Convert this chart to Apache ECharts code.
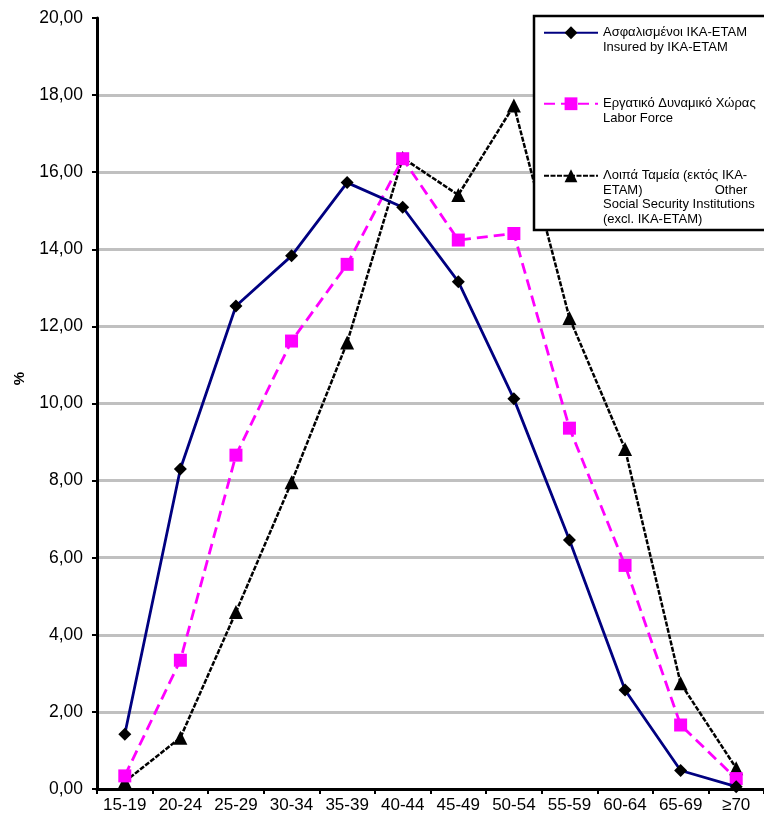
<!DOCTYPE html>
<html>
<head>
<meta charset="utf-8">
<script src="https://cdn.jsdelivr.net/npm/echarts@6/dist/echarts.min.js"></script>
<style>
    html, body { margin: 0; padding: 0; background: #fff; }
    #main { width: 764px; height: 819px; }
</style>
</head>
<body>
<div id="main"></div>
<script>
// age groups
let categories = ['15-19', '20-24', '25-29', '30-34', '35-39', '40-44', '45-49', '50-54', '55-59', '60-64', '65-69', '≥70'];
// % per age group
let insured = [1.42, 8.30, 12.53, 13.83, 15.73, 15.09, 13.16, 10.12, 6.46, 2.57, 0.48, 0.06];
let laborForce = [0.34, 3.34, 8.66, 11.62, 13.61, 16.35, 14.24, 14.41, 9.36, 5.80, 1.66, 0.27];
let otherFunds = [0.19, 1.33, 4.59, 7.96, 11.58, 16.37, 15.41, 17.73, 12.22, 8.82, 2.74, 0.54];

let seriesNames = [
    'Ασφαλισμένοι IKA-ETAM\nInsured by IKA-ETAM',
    'Εργατικό Δυναμικό Χώρας\nLabor Force',
    'Λοιπά Ταμεία (εκτός IKA-\nETAM)                    Other\nSocial Security Institutions\n(excl. IKA-ETAM)'
];

const FONT = '"Liberation Sans", Arial, sans-serif';
const LH = 14.5;

// one legend per entry; blank lines on top so the icon sits on the first text line
function makeLegend(name, top, lines) {
    return {
        data: [name],
        left: 543,
        top: top,
        padding: 0,
        itemWidth: 54,
        itemHeight: 16,
        z: 101,
        formatter: function (n) { return '\n'.repeat(lines - 1) + n; },
        textStyle: { fontFamily: FONT, fontSize: 13, lineHeight: LH, color: '#000' }
    };
}

let option = {
    backgroundColor: '#fff',
    animation: false,
    grid: { left: 97, top: 18, width: 671, height: 771 },
    legend: [
        makeLegend(seriesNames[0], 11, 2),
        makeLegend(seriesNames[1], 82, 2),
        makeLegend(seriesNames[2], 125, 4)
    ],
    graphic: [{
        type: 'rect',
        z: 100,
        shape: { x: 534, y: 16, width: 240, height: 214 },
        style: { fill: '#fff', stroke: '#000', lineWidth: 2.5 }
    }],
    xAxis: {
        type: 'category',
        data: categories,
        boundaryGap: true,
        axisLine: { lineStyle: { color: '#000', width: 3 } },
        axisTick: { show: true, length: 5, lineStyle: { color: '#000', width: 2 } },
        axisLabel: { color: '#000', fontFamily: FONT, fontSize: 17, margin: 8, interval: 0 }
    },
    yAxis: {
        type: 'value',
        min: 0,
        max: 20,
        interval: 2,
        name: '%',
        nameLocation: 'middle',
        nameGap: 70,
        nameRotate: 90,
        nameTextStyle: { fontFamily: FONT, fontSize: 15, fontWeight: 'bold', color: '#000', padding: [0, 0, 0, 50] },
        axisLine: { show: true, lineStyle: { color: '#000', width: 3 } },
        axisTick: { show: true, length: 5, lineStyle: { color: '#000', width: 2 } },
        axisLabel: {
            color: '#000', fontFamily: FONT, fontSize: 17.5, margin: 14,
            formatter: function (v) { return v.toFixed(2).replace('.', ','); }
        },
        splitLine: { show: true, showMaxLine: false, lineStyle: { color: '#c0c0c0', width: 3 } }
    },
    series: [
        {
            name: seriesNames[0],
            type: 'line',
            data: insured,
            symbol: 'diamond',
            symbolSize: 13,
            itemStyle: { color: '#000' },
            lineStyle: { color: '#000080', width: 2.8 },
            z: 4
        },
        {
            name: seriesNames[1],
            type: 'line',
            data: laborForce,
            symbol: 'rect',
            symbolSize: 13,
            itemStyle: { color: '#ff00ff' },
            lineStyle: { color: '#ff00ff', width: 2.8, type: [11, 6] },
            z: 3
        },
        {
            name: seriesNames[2],
            type: 'line',
            data: otherFunds,
            symbol: 'triangle',
            symbolSize: 14,
            itemStyle: { color: '#000' },
            lineStyle: { color: '#000', width: 2.5, type: [5, 1.5] },
            z: 2
        }
    ]
};

let myChart = echarts.init(document.getElementById('main'));
myChart.setOption(option);
</script>
</body>
</html>
